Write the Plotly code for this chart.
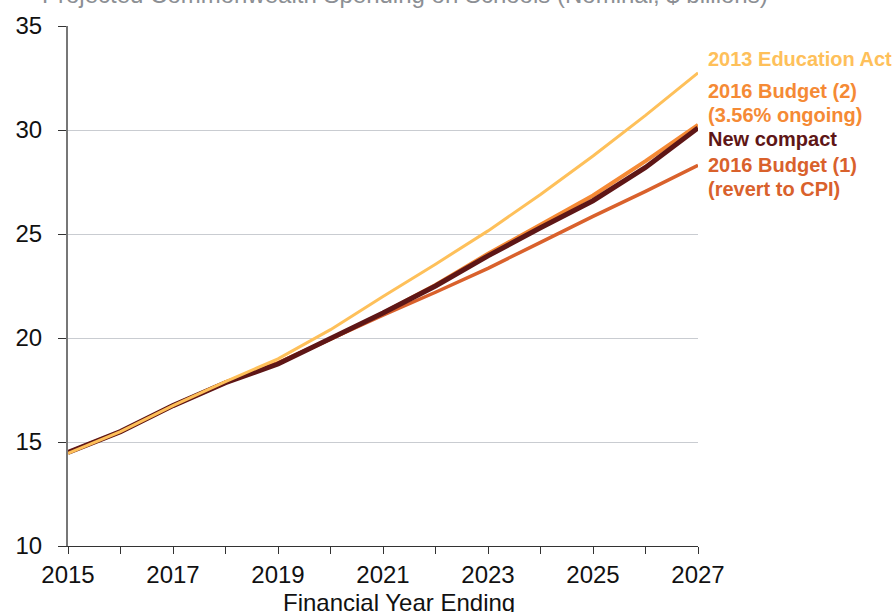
import plotly.graph_objects as go

years = list(range(2015, 2028))
edu_act = [14.45, 15.5, 16.75, 17.9, 19.0, 20.4, 22.0, 23.55, 25.15, 26.9, 28.75, 30.7, 32.75]
budget2 = [14.5, 15.5, 16.75, 17.85, 18.8, 19.95, 21.2, 22.55, 24.05, 25.45, 26.85, 28.5, 30.25]
new_compact = [14.5, 15.5, 16.75, 17.85, 18.75, 19.95, 21.2, 22.5, 23.95, 25.3, 26.6, 28.2, 30.1]
budget1 = [14.5, 15.5, 16.75, 17.85, 18.8, 19.95, 21.1, 22.2, 23.35, 24.6, 25.85, 27.05, 28.3]

x_tick_labels = ["2015", "", "2017", "", "2019", "", "2021", "", "2023", "", "2025", "", "2027"]
y_ticks = [10, 15, 20, 25, 30, 35]

label_edu = ["2013 Education Act"]
label_b2 = ["2016 Budget (2)", "(3.56% ongoing)"]
label_nc = ["New compact"]
label_b1 = ["2016 Budget (1)", "(revert to CPI)"]
title_text = "Projected Commonwealth Spending on Schools (Nominal, $ billions)"
x_title = "Financial Year Ending"

C_EDU = "#FEC05A"
C_B2 = "#F58A35"
C_NC = "#5E1616"
C_B1 = "#D9612C"

W, H = 894, 612
ML, MR, MT, MB = 68, 196, 24, 66
PH = H - MT - MB
PW = W - ML - MR

fig = go.Figure()
fig.add_trace(go.Scatter(x=years, y=budget1, mode="lines", line=dict(color=C_B1, width=3.5), name="b1"))
fig.add_trace(go.Scatter(x=years, y=budget2, mode="lines", line=dict(color=C_B2, width=4), name="b2"))
fig.add_trace(go.Scatter(x=years, y=new_compact, mode="lines", line=dict(color=C_NC, width=5), name="nc"))
fig.add_trace(go.Scatter(x=years, y=edu_act, mode="lines", line=dict(color=C_EDU, width=3), name="edu"))

font_main = "Liberation Sans, Arial, sans-serif"

def py(pix):
    return 1 - (pix - MT) / PH

annotations = []
label_specs = [
    (label_edu, C_EDU, [57]),
    (label_b2, C_B2, [89, 113]),
    (label_nc, C_NC, [137]),
    (label_b1, C_B1, [164, 188]),
]
for lines, color, ys in label_specs:
    for txt, yp in zip(lines, ys):
        annotations.append(dict(
            xref="paper", yref="paper", x=1, xanchor="left", xshift=8,
            y=py(yp), yanchor="middle",
            text="<b>" + txt + "</b>", showarrow=False, align="left",
            font=dict(family=font_main, size=20, color=color),
        ))

annotations.append(dict(
    xref="paper", yref="paper", x=(405 - ML) / PW, y=1, yanchor="bottom", xanchor="center",
    yshift=16, text=title_text, showarrow=False,
    font=dict(family=font_main, size=24, color="#8C8F94"),
))
annotations.append(dict(
    xref="paper", yref="paper", x=(399 - ML) / PW, y=0, yanchor="top", xanchor="center",
    yshift=-41, text=x_title, showarrow=False,
    font=dict(family=font_main, size=24, color="#111"),
))

fig.update_layout(
    width=W, height=H,
    margin=dict(l=ML, r=MR, t=MT, b=MB),
    paper_bgcolor="white", plot_bgcolor="white",
    showlegend=False,
    font=dict(family=font_main, size=24, color="#111"),
    annotations=annotations,
    xaxis=dict(
        range=[2015, 2027], tickvals=years, ticktext=x_tick_labels,
        ticks="outside", ticklen=7, tickcolor="#333", tickwidth=1,
        showline=True, linecolor="#333", linewidth=1.2,
        showgrid=False, zeroline=False,
        tickfont=dict(size=24),
    ),
    yaxis=dict(
        range=[10, 35], tickvals=y_ticks,
        ticks="outside", ticklen=8, tickcolor="#333", tickwidth=1,
        showline=True, linecolor="#777", linewidth=2,
        showgrid=True, gridcolor="#C9CCD1", gridwidth=1,
        zeroline=False, tickfont=dict(size=24), ticklabelstandoff=11,
    ),
)

fig.write_html("out.html", config={"displayModeBar": False},
               post_script="document.body.style.margin='0px';")
